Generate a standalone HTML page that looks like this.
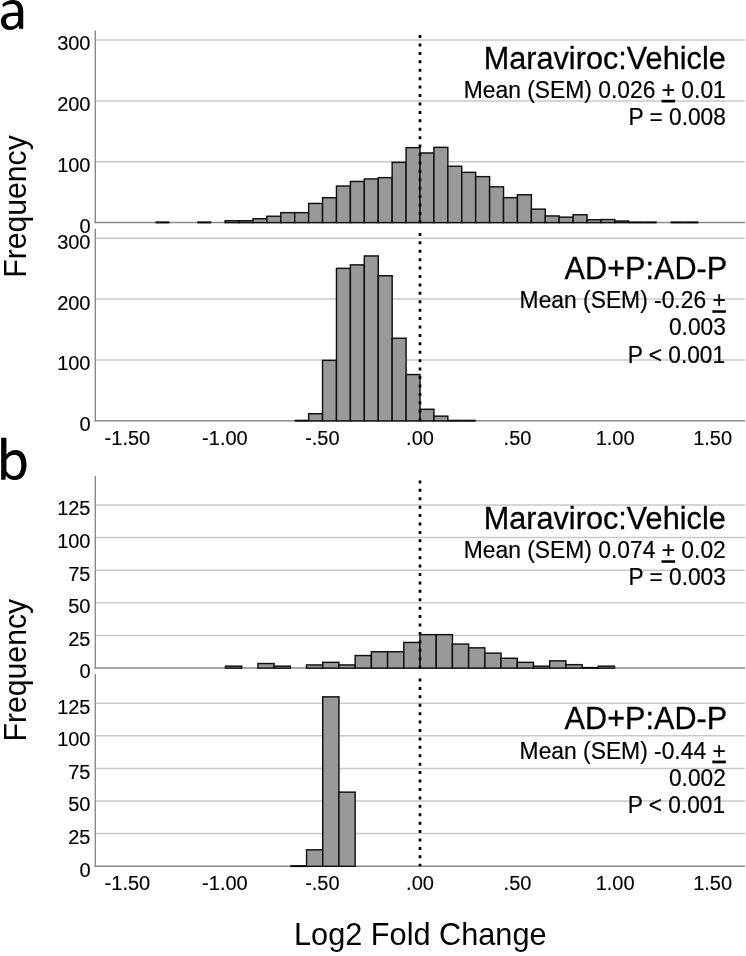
<!DOCTYPE html>
<html>
<head>
<meta charset="utf-8">
<title>Log2 Fold Change histograms</title>
<style>html,body{margin:0;padding:0;background:#fff;}svg{display:block;filter:grayscale(1);}text{font-family:"Liberation Sans",sans-serif;}</style>
</head>
<body>
<svg width="746" height="956" viewBox="0 0 746 956" font-family="'Liberation Sans', sans-serif" fill="#000">
<rect width="746" height="956" fill="#fff"/>
<line x1="95.3" x2="745.0" y1="40" y2="40" stroke="#c9c9c9" stroke-width="1.5"/>
<line x1="95.3" x2="745.0" y1="100.9" y2="100.9" stroke="#c9c9c9" stroke-width="1.5"/>
<line x1="95.3" x2="745.0" y1="161.7" y2="161.7" stroke="#c9c9c9" stroke-width="1.5"/>
<line x1="95.3" x2="95.3" y1="30.5" y2="223.2" stroke="#8a8a8a" stroke-width="1.4"/>
<line x1="94.6" x2="745.0" y1="222.5" y2="222.5" stroke="#8a8a8a" stroke-width="1.5"/>
<rect x="225.12" y="220.75" width="13.92" height="1.85" fill="#999999" stroke="#111111" stroke-width="1.45"/>
<rect x="239.04" y="220.75" width="13.92" height="1.85" fill="#999999" stroke="#111111" stroke-width="1.45"/>
<rect x="252.96" y="218.75" width="13.92" height="3.85" fill="#999999" stroke="#111111" stroke-width="1.45"/>
<rect x="266.88" y="216.25" width="13.92" height="6.35" fill="#999999" stroke="#111111" stroke-width="1.45"/>
<rect x="280.80" y="212.65" width="13.92" height="9.95" fill="#999999" stroke="#111111" stroke-width="1.45"/>
<rect x="294.72" y="212.65" width="13.92" height="9.95" fill="#999999" stroke="#111111" stroke-width="1.45"/>
<rect x="308.64" y="203.45" width="13.92" height="19.15" fill="#999999" stroke="#111111" stroke-width="1.45"/>
<rect x="322.56" y="197.75" width="13.92" height="24.85" fill="#999999" stroke="#111111" stroke-width="1.45"/>
<rect x="336.48" y="186.05" width="13.92" height="36.55" fill="#999999" stroke="#111111" stroke-width="1.45"/>
<rect x="350.40" y="181.45" width="13.92" height="41.15" fill="#999999" stroke="#111111" stroke-width="1.45"/>
<rect x="364.32" y="178.95" width="13.92" height="43.65" fill="#999999" stroke="#111111" stroke-width="1.45"/>
<rect x="378.24" y="177.65" width="13.92" height="44.95" fill="#999999" stroke="#111111" stroke-width="1.45"/>
<rect x="392.16" y="162.35" width="13.92" height="60.25" fill="#999999" stroke="#111111" stroke-width="1.45"/>
<rect x="406.08" y="147.65" width="13.92" height="74.95" fill="#999999" stroke="#111111" stroke-width="1.45"/>
<rect x="420.00" y="152.95" width="13.92" height="69.65" fill="#999999" stroke="#111111" stroke-width="1.45"/>
<rect x="433.92" y="147.35" width="13.92" height="75.25" fill="#999999" stroke="#111111" stroke-width="1.45"/>
<rect x="447.84" y="166.25" width="13.92" height="56.35" fill="#999999" stroke="#111111" stroke-width="1.45"/>
<rect x="461.76" y="172.35" width="13.92" height="50.25" fill="#999999" stroke="#111111" stroke-width="1.45"/>
<rect x="475.68" y="176.65" width="13.92" height="45.95" fill="#999999" stroke="#111111" stroke-width="1.45"/>
<rect x="489.60" y="186.85" width="13.92" height="35.75" fill="#999999" stroke="#111111" stroke-width="1.45"/>
<rect x="503.52" y="197.65" width="13.92" height="24.95" fill="#999999" stroke="#111111" stroke-width="1.45"/>
<rect x="517.44" y="194.75" width="13.92" height="27.85" fill="#999999" stroke="#111111" stroke-width="1.45"/>
<rect x="531.36" y="209.15" width="13.92" height="13.45" fill="#999999" stroke="#111111" stroke-width="1.45"/>
<rect x="545.28" y="215.95" width="13.92" height="6.65" fill="#999999" stroke="#111111" stroke-width="1.45"/>
<rect x="559.20" y="217.15" width="13.92" height="5.45" fill="#999999" stroke="#111111" stroke-width="1.45"/>
<rect x="573.12" y="214.75" width="13.92" height="7.85" fill="#999999" stroke="#111111" stroke-width="1.45"/>
<rect x="587.04" y="219.75" width="13.92" height="2.85" fill="#999999" stroke="#111111" stroke-width="1.45"/>
<rect x="600.96" y="219.55" width="13.92" height="3.05" fill="#999999" stroke="#111111" stroke-width="1.45"/>
<rect x="614.88" y="221.05" width="13.92" height="1.55" fill="#999999" stroke="#111111" stroke-width="1.45"/>
<rect x="155.52" y="221.40" width="13.92" height="2.0" fill="#0a0a0a"/>
<rect x="197.28" y="221.40" width="13.92" height="2.0" fill="#0a0a0a"/>
<rect x="628.80" y="221.40" width="13.92" height="2.0" fill="#0a0a0a"/>
<rect x="642.72" y="221.40" width="13.92" height="2.0" fill="#0a0a0a"/>
<rect x="670.56" y="221.40" width="13.92" height="2.0" fill="#0a0a0a"/>
<rect x="684.48" y="221.40" width="13.92" height="2.0" fill="#0a0a0a"/>
<line x1="420.0" x2="420.0" y1="35.10" y2="222.5" stroke="#000" stroke-width="2.7" stroke-dasharray="3 5.42"/>
<text x="90.5" y="50.4" font-size="20" text-anchor="end" stroke="#000" stroke-width="0.15">300</text>
<text x="90.5" y="111.3" font-size="20" text-anchor="end" stroke="#000" stroke-width="0.15">200</text>
<text x="90.5" y="172.1" font-size="20" text-anchor="end" stroke="#000" stroke-width="0.15">100</text>
<text x="90.5" y="232.9" font-size="20" text-anchor="end" stroke="#000" stroke-width="0.15">0</text>
<text transform="translate(725.8 68.5)" font-size="30.6" text-anchor="end" letter-spacing="0.04" stroke="#000" stroke-width="0.3">Maraviroc:Vehicle</text>
<text transform="translate(725.8 97.9) scale(1 1.05)" font-size="22.85" text-anchor="end" stroke="#000" stroke-width="0.2">Mean (SEM) 0.026 <tspan text-decoration="underline">+</tspan> 0.01</text>
<text transform="translate(725.8 125) scale(1 1.05)" font-size="22.7" text-anchor="end" stroke="#000" stroke-width="0.2">P = 0.008</text>
<line x1="95.3" x2="745.0" y1="238.3" y2="238.3" stroke="#c9c9c9" stroke-width="1.5"/>
<line x1="95.3" x2="745.0" y1="299.1" y2="299.1" stroke="#c9c9c9" stroke-width="1.5"/>
<line x1="95.3" x2="745.0" y1="359.9" y2="359.9" stroke="#c9c9c9" stroke-width="1.5"/>
<line x1="95.3" x2="95.3" y1="228.8" y2="421.5" stroke="#8a8a8a" stroke-width="1.4"/>
<line x1="94.6" x2="745.0" y1="420.8" y2="420.8" stroke="#8a8a8a" stroke-width="1.5"/>
<rect x="308.64" y="413.75" width="13.92" height="7.15" fill="#999999" stroke="#111111" stroke-width="1.45"/>
<rect x="322.56" y="360.35" width="13.92" height="60.55" fill="#999999" stroke="#111111" stroke-width="1.45"/>
<rect x="336.48" y="268.35" width="13.92" height="152.55" fill="#999999" stroke="#111111" stroke-width="1.45"/>
<rect x="350.40" y="264.85" width="13.92" height="156.05" fill="#999999" stroke="#111111" stroke-width="1.45"/>
<rect x="364.32" y="255.95" width="13.92" height="164.95" fill="#999999" stroke="#111111" stroke-width="1.45"/>
<rect x="378.24" y="275.75" width="13.92" height="145.15" fill="#999999" stroke="#111111" stroke-width="1.45"/>
<rect x="392.16" y="338.25" width="13.92" height="82.65" fill="#999999" stroke="#111111" stroke-width="1.45"/>
<rect x="406.08" y="374.55" width="13.92" height="46.35" fill="#999999" stroke="#111111" stroke-width="1.45"/>
<rect x="420.00" y="409.25" width="13.92" height="11.65" fill="#999999" stroke="#111111" stroke-width="1.45"/>
<rect x="433.92" y="416.15" width="13.92" height="4.75" fill="#999999" stroke="#111111" stroke-width="1.45"/>
<rect x="294.72" y="419.70" width="13.92" height="2.0" fill="#0a0a0a"/>
<rect x="447.84" y="419.70" width="13.92" height="2.0" fill="#0a0a0a"/>
<rect x="461.76" y="419.70" width="13.92" height="2.0" fill="#0a0a0a"/>
<line x1="420.0" x2="420.0" y1="232.90" y2="420.8" stroke="#000" stroke-width="2.7" stroke-dasharray="3 5.42"/>
<text x="90.5" y="248.7" font-size="20" text-anchor="end" stroke="#000" stroke-width="0.15">300</text>
<text x="90.5" y="309.5" font-size="20" text-anchor="end" stroke="#000" stroke-width="0.15">200</text>
<text x="90.5" y="370.3" font-size="20" text-anchor="end" stroke="#000" stroke-width="0.15">100</text>
<text x="90.5" y="431.2" font-size="20" text-anchor="end" stroke="#000" stroke-width="0.15">0</text>
<text transform="translate(727.3 278.5)" font-size="30.6" text-anchor="end" letter-spacing="0.04" stroke="#000" stroke-width="0.3">AD+P:AD-P</text>
<text transform="translate(725.8 308.3) scale(1 1.05)" font-size="22.85" text-anchor="end" stroke="#000" stroke-width="0.2">Mean (SEM) -0.26 <tspan text-decoration="underline">+</tspan></text>
<text transform="translate(725.8 335.2) scale(1 1.05)" font-size="22.7" text-anchor="end" stroke="#000" stroke-width="0.2">0.003</text>
<text transform="translate(725.0999999999999 362.7) scale(1 1.05)" font-size="22.7" text-anchor="end" stroke="#000" stroke-width="0.2">P &lt; 0.001</text>
<text x="127.4" y="444.8" font-size="20" text-anchor="middle" stroke="#000" stroke-width="0.15">-1.50</text>
<text x="224.9" y="444.8" font-size="20" text-anchor="middle" stroke="#000" stroke-width="0.15">-1.00</text>
<text x="322.4" y="444.8" font-size="20" text-anchor="middle" stroke="#000" stroke-width="0.15">-.50</text>
<text x="420.0" y="444.8" font-size="20" text-anchor="middle" stroke="#000" stroke-width="0.15">.00</text>
<text x="517.5" y="444.8" font-size="20" text-anchor="middle" stroke="#000" stroke-width="0.15">.50</text>
<text x="615.1" y="444.8" font-size="20" text-anchor="middle" stroke="#000" stroke-width="0.15">1.00</text>
<text x="712.6" y="444.8" font-size="20" text-anchor="middle" stroke="#000" stroke-width="0.15">1.50</text>
<line x1="95.3" x2="745.0" y1="505" y2="505" stroke="#c9c9c9" stroke-width="1.5"/>
<line x1="95.3" x2="745.0" y1="537.6" y2="537.6" stroke="#c9c9c9" stroke-width="1.5"/>
<line x1="95.3" x2="745.0" y1="570.2" y2="570.2" stroke="#c9c9c9" stroke-width="1.5"/>
<line x1="95.3" x2="745.0" y1="602.8" y2="602.8" stroke="#c9c9c9" stroke-width="1.5"/>
<line x1="95.3" x2="745.0" y1="635.4" y2="635.4" stroke="#c9c9c9" stroke-width="1.5"/>
<line x1="95.3" x2="95.3" y1="476" y2="668.7" stroke="#8a8a8a" stroke-width="1.4"/>
<line x1="94.6" x2="745.0" y1="668" y2="668" stroke="#8a8a8a" stroke-width="1.5"/>
<rect x="225.48" y="666.15" width="16.21" height="1.95" fill="#999999" stroke="#111111" stroke-width="1.45"/>
<rect x="257.90" y="663.55" width="16.21" height="4.55" fill="#999999" stroke="#111111" stroke-width="1.45"/>
<rect x="274.11" y="666.15" width="16.21" height="1.95" fill="#999999" stroke="#111111" stroke-width="1.45"/>
<rect x="306.53" y="664.95" width="16.21" height="3.15" fill="#999999" stroke="#111111" stroke-width="1.45"/>
<rect x="322.74" y="662.35" width="16.21" height="5.75" fill="#999999" stroke="#111111" stroke-width="1.45"/>
<rect x="338.95" y="664.95" width="16.21" height="3.15" fill="#999999" stroke="#111111" stroke-width="1.45"/>
<rect x="355.16" y="655.55" width="16.21" height="12.55" fill="#999999" stroke="#111111" stroke-width="1.45"/>
<rect x="371.37" y="651.75" width="16.21" height="16.35" fill="#999999" stroke="#111111" stroke-width="1.45"/>
<rect x="387.58" y="651.75" width="16.21" height="16.35" fill="#999999" stroke="#111111" stroke-width="1.45"/>
<rect x="403.79" y="642.45" width="16.21" height="25.65" fill="#999999" stroke="#111111" stroke-width="1.45"/>
<rect x="420.00" y="634.65" width="16.21" height="33.45" fill="#999999" stroke="#111111" stroke-width="1.45"/>
<rect x="436.21" y="634.65" width="16.21" height="33.45" fill="#999999" stroke="#111111" stroke-width="1.45"/>
<rect x="452.42" y="644.05" width="16.21" height="24.05" fill="#999999" stroke="#111111" stroke-width="1.45"/>
<rect x="468.63" y="647.85" width="16.21" height="20.25" fill="#999999" stroke="#111111" stroke-width="1.45"/>
<rect x="484.84" y="653.15" width="16.21" height="14.95" fill="#999999" stroke="#111111" stroke-width="1.45"/>
<rect x="501.05" y="658.25" width="16.21" height="9.85" fill="#999999" stroke="#111111" stroke-width="1.45"/>
<rect x="517.26" y="662.35" width="16.21" height="5.75" fill="#999999" stroke="#111111" stroke-width="1.45"/>
<rect x="533.47" y="666.15" width="16.21" height="1.95" fill="#999999" stroke="#111111" stroke-width="1.45"/>
<rect x="549.68" y="660.85" width="16.21" height="7.25" fill="#999999" stroke="#111111" stroke-width="1.45"/>
<rect x="565.89" y="664.65" width="16.21" height="3.45" fill="#999999" stroke="#111111" stroke-width="1.45"/>
<rect x="598.31" y="666.15" width="16.21" height="1.95" fill="#999999" stroke="#111111" stroke-width="1.45"/>
<rect x="582.10" y="666.90" width="16.21" height="2.0" fill="#0a0a0a"/>
<line x1="420.0" x2="420.0" y1="480.40" y2="668" stroke="#000" stroke-width="2.7" stroke-dasharray="3 5.42"/>
<text x="90.5" y="515.4" font-size="20" text-anchor="end" stroke="#000" stroke-width="0.15">125</text>
<text x="90.5" y="548.0" font-size="20" text-anchor="end" stroke="#000" stroke-width="0.15">100</text>
<text x="90.5" y="580.6" font-size="20" text-anchor="end" stroke="#000" stroke-width="0.15">75</text>
<text x="90.5" y="613.2" font-size="20" text-anchor="end" stroke="#000" stroke-width="0.15">50</text>
<text x="90.5" y="645.8" font-size="20" text-anchor="end" stroke="#000" stroke-width="0.15">25</text>
<text x="90.5" y="678.4" font-size="20" text-anchor="end" stroke="#000" stroke-width="0.15">0</text>
<text transform="translate(725.8 528.9)" font-size="30.6" text-anchor="end" letter-spacing="0.04" stroke="#000" stroke-width="0.3">Maraviroc:Vehicle</text>
<text transform="translate(725.8 558.3) scale(1 1.05)" font-size="22.85" text-anchor="end" stroke="#000" stroke-width="0.2">Mean (SEM) 0.074 <tspan text-decoration="underline">+</tspan> 0.02</text>
<text transform="translate(725.8 585) scale(1 1.05)" font-size="22.7" text-anchor="end" stroke="#000" stroke-width="0.2">P = 0.003</text>
<line x1="95.3" x2="745.0" y1="703.2" y2="703.2" stroke="#c9c9c9" stroke-width="1.5"/>
<line x1="95.3" x2="745.0" y1="735.8" y2="735.8" stroke="#c9c9c9" stroke-width="1.5"/>
<line x1="95.3" x2="745.0" y1="768.4" y2="768.4" stroke="#c9c9c9" stroke-width="1.5"/>
<line x1="95.3" x2="745.0" y1="801" y2="801" stroke="#c9c9c9" stroke-width="1.5"/>
<line x1="95.3" x2="745.0" y1="833.6" y2="833.6" stroke="#c9c9c9" stroke-width="1.5"/>
<line x1="95.3" x2="95.3" y1="674" y2="866.9000000000001" stroke="#8a8a8a" stroke-width="1.4"/>
<line x1="94.6" x2="745.0" y1="866.2" y2="866.2" stroke="#8a8a8a" stroke-width="1.5"/>
<rect x="306.53" y="849.85" width="16.21" height="16.45" fill="#999999" stroke="#111111" stroke-width="1.45"/>
<rect x="322.74" y="696.85" width="16.21" height="169.45" fill="#999999" stroke="#111111" stroke-width="1.45"/>
<rect x="338.95" y="792.15" width="16.21" height="74.15" fill="#999999" stroke="#111111" stroke-width="1.45"/>
<rect x="290.32" y="865.10" width="16.21" height="2.0" fill="#0a0a0a"/>
<line x1="420.0" x2="420.0" y1="678.50" y2="866.2" stroke="#000" stroke-width="2.7" stroke-dasharray="3 5.42"/>
<text x="90.5" y="713.6" font-size="20" text-anchor="end" stroke="#000" stroke-width="0.15">125</text>
<text x="90.5" y="746.2" font-size="20" text-anchor="end" stroke="#000" stroke-width="0.15">100</text>
<text x="90.5" y="778.8" font-size="20" text-anchor="end" stroke="#000" stroke-width="0.15">75</text>
<text x="90.5" y="811.4" font-size="20" text-anchor="end" stroke="#000" stroke-width="0.15">50</text>
<text x="90.5" y="844.0" font-size="20" text-anchor="end" stroke="#000" stroke-width="0.15">25</text>
<text x="90.5" y="876.6" font-size="20" text-anchor="end" stroke="#000" stroke-width="0.15">0</text>
<text transform="translate(727.3 728.9)" font-size="30.6" text-anchor="end" letter-spacing="0.04" stroke="#000" stroke-width="0.3">AD+P:AD-P</text>
<text transform="translate(725.8 758.7) scale(1 1.05)" font-size="22.85" text-anchor="end" stroke="#000" stroke-width="0.2">Mean (SEM) -0.44 <tspan text-decoration="underline">+</tspan></text>
<text transform="translate(725.8 785.7) scale(1 1.05)" font-size="22.7" text-anchor="end" stroke="#000" stroke-width="0.2">0.002</text>
<text transform="translate(725.0999999999999 813.1) scale(1 1.05)" font-size="22.7" text-anchor="end" stroke="#000" stroke-width="0.2">P &lt; 0.001</text>
<text x="127.4" y="890.3" font-size="20" text-anchor="middle" stroke="#000" stroke-width="0.15">-1.50</text>
<text x="224.9" y="890.3" font-size="20" text-anchor="middle" stroke="#000" stroke-width="0.15">-1.00</text>
<text x="322.4" y="890.3" font-size="20" text-anchor="middle" stroke="#000" stroke-width="0.15">-.50</text>
<text x="420.0" y="890.3" font-size="20" text-anchor="middle" stroke="#000" stroke-width="0.15">.00</text>
<text x="517.5" y="890.3" font-size="20" text-anchor="middle" stroke="#000" stroke-width="0.15">.50</text>
<text x="615.1" y="890.3" font-size="20" text-anchor="middle" stroke="#000" stroke-width="0.15">1.00</text>
<text x="712.6" y="890.3" font-size="20" text-anchor="middle" stroke="#000" stroke-width="0.15">1.50</text>
<text transform="translate(26.4 206.5) rotate(-90) scale(0.99 1)" font-size="30.5" text-anchor="middle">Frequency</text>
<text transform="translate(26.4 670.2) rotate(-90) scale(0.99 1)" font-size="30.5" text-anchor="middle">Frequency</text>
<text x="420.3" y="945" font-size="30.7" text-anchor="middle">Log2 Fold Change</text>
<path transform="scale(0.040209)" fill-rule="evenodd" d="M52,105 C150,35 240,2 320,2 C475,2 578,95 578,290 L578,716 L478,716 L470,642 C420,702 340,748 250,748 C110,748 22,660 22,530 C22,400 120,318 300,314 L450,311 L450,290 C450,165 400,100 300,100 C220,100 140,130 82,172 Z M450,398 L320,400 C200,404 150,450 150,528 C150,602 200,652 272,652 C360,652 430,592 450,520 Z"/>
<path transform="translate(0 434) scale(0.053619)" fill-rule="evenodd" d="M22,72 L120,72 L120,385 C165,325 225,298 290,298 C420,298 495,410 495,575 C495,750 410,860 280,860 C205,860 150,835 108,775 L102,855 L22,855 Z M120,690 C150,740 200,785 262,785 C350,785 398,700 398,580 C398,460 350,385 265,385 C200,385 150,425 120,485 Z"/>
</svg>
</body>
</html>
